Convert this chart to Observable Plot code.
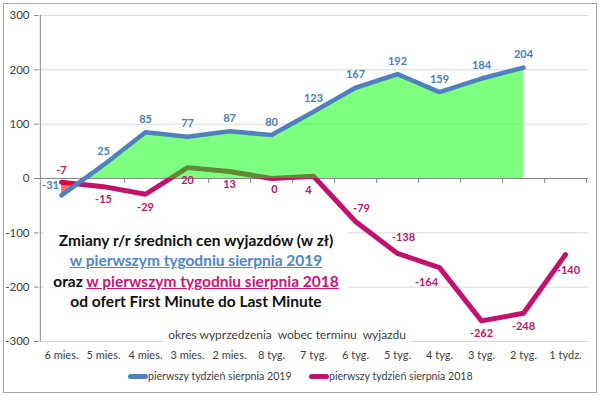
<!DOCTYPE html>
<html><head><meta charset="utf-8">
<script src="https://cdn.jsdelivr.net/npm/d3@7"></script>
<script src="https://cdn.jsdelivr.net/npm/@observablehq/plot@0.6"></script>
<style>
body{margin:0;background:#fff;font-family:Lato,"Open Sans",sans-serif}
#wrap{position:relative;width:600px;height:395px;overflow:hidden;background:#fff}
#border{position:absolute;left:3px;top:3px;width:594px;height:390px;border:1px solid #a6a6a6;box-sizing:border-box;pointer-events:none}
#chart{position:absolute;left:0;top:0}
#title{position:absolute;left:44px;top:228px;width:304px;background:#fff;text-align:center;font-weight:bold;font-size:15.5px;line-height:20.3px;color:#111;padding:2px 0 4px 0}
#title .b{color:#4f86c6;text-decoration:underline}
#title .p{color:#cc1474;text-decoration:underline}
#xtitle{position:absolute;left:287px;top:327px;transform:translateX(-50%);background:#fff;padding:0 4px;font-size:12px;line-height:16px;color:#404040;white-space:pre}
.leg{position:absolute;top:369px;font-size:10.6px;line-height:14px;color:#404040;white-space:nowrap}
.sw{position:absolute;top:374px;height:5px;border-radius:2.5px}
</style></head>
<body>
<div id="wrap">
  <div id="chart"></div>
  <div id="title"></div>
  <div id="xtitle"></div>
  <div id="legend"></div>
  <div id="border"></div>
</div>
<script>
const categories = ["6 mies.","5 mies.","4 mies.","3 mies.","2 mies.","8 tyg.","7 tyg.","6 tyg.","5 tyg.","4 tyg.","3 tyg.","2 tyg.","1 tydz."];
const values2019 = [-31,25,85,77,87,80,123,167,192,159,184,204];
const values2018 = [-7,-15,-29,20,13,0,4,-79,-138,-164,-262,-248,-140];
const yTicks = [-300,-200,-100,0,100,200,300];
const name2019 = "pierwszy tydzień sierpnia 2019";
const name2018 = "pierwszy tydzień sierpnia 2018";
const titleLine1 = "Zmiany r/r średnich cen wyjazdów (w zł)";
const titleLine2 = "w pierwszym tygodniu sierpnia 2019";
const titleLine3a = "oraz ";
const titleLine3b = "w pierwszym tygodniu sierpnia 2018";
const titleLine4 = "od ofert First Minute do Last Minute";
const xAxisTitle = "okres wyprzedzenia  wobec terminu  wyjazdu";

const color2019 = "#4f81bd", color2018 = "#c2126e";
const label2019 = "#4a7ebb", label2018 = "#c0136c";

const rows2019 = values2019.map((v,i)=>({cat:categories[i], v}));
const rows2018 = values2018.map((v,i)=>({cat:categories[i], v}));

// label placement (pixels), default above for 2019, below for 2018
const off2019 = {"-31":[-11,-10]};
const off2018 = {"-7":[0,-12],"0":[3,11],"4":[-5,14],"-79":[6,-13],"-138":[6,-16],"-164":[-13,15],"-140":[3,16]};

const x0 = 38, x1 = 588;
const bw = (x1 - x0) / categories.length;

const labelMarks = [];
rows2019.forEach(r=>{
  const o = off2019[String(r.v)] || [0,-13];
  labelMarks.push(Plot.text([r], {x:"cat", y:"v", text:d=>String(d.v), dx:o[0], dy:o[1], fill:label2019, fontWeight:"bold", fontSize:11}));
});
rows2018.forEach(r=>{
  const o = off2018[String(r.v)] || [0,13];
  labelMarks.push(Plot.text([r], {x:"cat", y:"v", text:d=>String(d.v), dx:o[0], dy:o[1], fill:label2018, fontWeight:"bold", fontSize:11}));
});

const chart = Plot.plot({
  width:600, height:395,
  marginLeft:x0, marginRight:600-x1, marginTop:15, marginBottom:54,
  style:{fontFamily:"Lato, 'Open Sans', sans-serif", fontSize:"11px", color:"#404040", background:"transparent"},
  x:{type:"band", domain:categories, padding:0},
  y:{domain:[-300,300]},
  marks:[
    Plot.gridY(yTicks, {stroke:"#d9d9d9", strokeOpacity:1}),
    Plot.ruleY([0], {stroke:"#868686"}),
    Plot.ruleX([categories[0]], {x:d=>d, y1:-300, y2:300, dx:-bw/2, stroke:"#868686"}),
    Plot.ruleX(categories, {x:d=>d, y1:0, y2:-9, dx:bw/2, stroke:"#868686"}),
    Plot.axisY(yTicks, {tickSize:4, tickPadding:5, tickFormat:d=>String(d), label:null, fontSize:11.5}),
    Plot.axisX({tickSize:0, tickPadding:10, label:null, fontSize:11}),
    Plot.line(rows2018, {x:"cat", y:"v", stroke:color2018, strokeWidth:5, strokeLinejoin:"round"}),
    Plot.areaY(rows2019, {x:"cat", y1:0, y2:"v", fill:"#00ff00", fillOpacity:0.5, ariaDescription:"greenArea"}),
    Plot.areaY(rows2019, {x:"cat", y1:0, y2:300, fill:"black", ariaDescription:"greenClip"}),
    Plot.areaY(rows2019, {x:"cat", y1:"v", y2:300, fill:"#ff0000", fillOpacity:0.55, ariaDescription:"redArea"}),
    Plot.areaY(rows2018, {x:"cat", y1:-300, y2:"v", fill:"black", ariaDescription:"redClip"}),
    Plot.line(rows2019, {x:"cat", y:"v", stroke:color2019, strokeWidth:4.5, strokeLinejoin:"round"}),
    ...labelMarks
  ]
});

function applyClip(svg, targetDesc, clipDesc, id){
  const ns = "http://www.w3.org/2000/svg";
  const t = svg.querySelector(`g[aria-description="${targetDesc}"]`);
  const c = svg.querySelector(`g[aria-description="${clipDesc}"]`);
  if (!t || !c) return;
  let defs = svg.querySelector("defs");
  if (!defs) { defs = document.createElementNS(ns, "defs"); svg.insertBefore(defs, svg.firstChild); }
  const cp = document.createElementNS(ns, "clipPath");
  cp.setAttribute("id", id);
  c.querySelectorAll("path").forEach(p=>{ const q = p.cloneNode(); if (c.getAttribute("transform")) q.setAttribute("transform", c.getAttribute("transform")); cp.appendChild(q); });
  defs.appendChild(cp);
  c.remove();
  const wrapG = document.createElementNS(ns, "g");
  wrapG.setAttribute("clip-path", `url(#${id})`);
  t.parentNode.insertBefore(wrapG, t);
  wrapG.appendChild(t);
}
applyClip(chart, "greenArea", "greenClip", "clipG");
applyClip(chart, "redArea", "redClip", "clipR");

d3.select(chart).selectAll('g[aria-label="y-axis tick"] path, g[aria-label="y-axis tick"]').attr("stroke", "#868686");
d3.select(chart).selectAll('g[aria-label="y-axis tick label"], g[aria-label="x-axis tick label"]').attr("fill", "#404040");

document.getElementById("chart").appendChild(chart);

const t = document.getElementById("title");
t.innerHTML = "";
const addLine = (parts)=>{
  parts.forEach(([txt, cls])=>{ const s = document.createElement("span"); if (cls) s.className = cls; s.textContent = txt; t.appendChild(s); });
  t.appendChild(document.createElement("br"));
};
addLine([[titleLine1]]);
addLine([[titleLine2, "b"]]);
addLine([[titleLine3a],[titleLine3b, "p"]]);
addLine([[titleLine4]]);
t.removeChild(t.lastChild);

document.getElementById("xtitle").textContent = xAxisTitle;

const legend = document.getElementById("legend");
[[name2019, color2019, 128], [name2018, color2018, 309]].forEach(([n, c, x])=>{
  const sw = document.createElement("div"); sw.className = "sw";
  sw.style.left = x + "px"; sw.style.width = "20px"; sw.style.background = c;
  const lb = document.createElement("div"); lb.className = "leg";
  lb.style.left = (x + 20) + "px"; lb.textContent = n;
  legend.appendChild(sw); legend.appendChild(lb);
});
</script>
</body></html>
